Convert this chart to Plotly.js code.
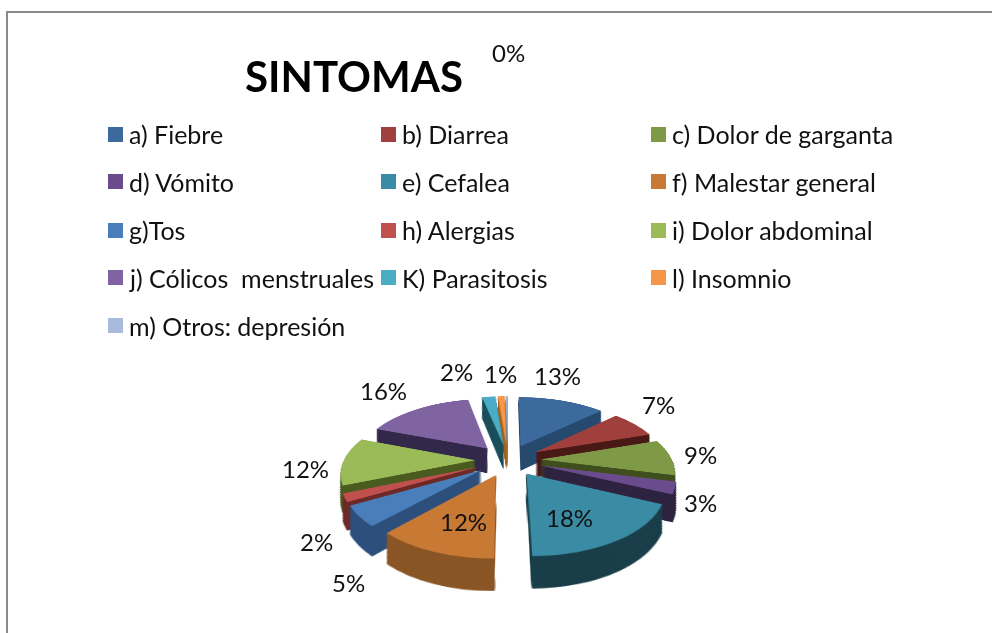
<!DOCTYPE html>
<html>
<head>
<meta charset="utf-8">
<script src="https://cdn.plot.ly/plotly-3.0.1.min.js"></script>
<style>
html,body{margin:0;padding:0;background:#fff;overflow:hidden}
#frame{position:absolute;left:6px;top:11px;width:990px;height:630px;border-left:2px solid #8a8a8a;border-top:2px solid #8a8a8a}
#chart{position:absolute;left:0;top:0;width:992px;height:633px}
</style>
</head>
<body>
<div id="frame"></div>
<div id="chart"></div>
<script>
const categories = ["a) Fiebre","b) Diarrea","c) Dolor de garganta","d) Vómito","e) Cefalea","f) Malestar general","g)Tos","h) Alergias","i) Dolor abdominal","j) Cólicos  menstruales","K) Parasitosis","l) Insomnio","m) Otros: depresión"];
const values = [13,7,9,3,18,12,5,2,12,16,2,1,0.3];
const topColors = ["#3d6a9d","#a0403c","#7f9a46","#6a4c8c","#3a8ca4","#c87a35","#4a7ebb","#c0504d","#9bbb59","#8064a2","#4bacc6","#f79646","#a8bbdd"];
const sideColors = ["#264a6e","#4a1a17","#3f4f1e","#2f2440","#1a3f4a","#8a5626","#2d4f7c","#6e2a28","#4a5c20","#33294a","#1c4f5c","#a8651f","#6f7f9c"];
const labelX = [557,658,700,700,569,463,348,316,305,383,456,500,509];
const labelY = [375,405,455,503,517,521,582,541,468,390,371,373,53];

const W = 992, H = 633;
const pieCx = 508, pieCy = 250, outer = 164, pull = 0.25, depth = 50, step = 1;
const targetCy = 460, persp = 650, tilt = 61.6;

const px = v => v / W, py = v => 1 - v / H;
const sinT = Math.sin(tilt * Math.PI / 180);
const traces = [];
for (let d = depth; d >= 0; d -= step) {
  const f = (persp - d * sinT) / persp, r = outer * f;
  traces.push({
    type: "pie", values: values, labels: categories, sort: false, direction: "clockwise", rotation: 0,
    pull: values.map(() => pull), textinfo: "none", hoverinfo: "skip", showlegend: false,
    marker: {colors: d === 0 ? topColors : sideColors, line: {width: 0}},
    domain: {x: [px(pieCx - r), px(pieCx + r)], y: [py(pieCy + d + r), py(pieCy + d - r)]}
  });
}

const FONT = "Lato, Carlito, Calibri, sans-serif";
const annotations = [];
categories.forEach((c, i) => {
  const col = i % 3, row = Math.floor(i / 3);
  const sx = [108, 381, 651][col], ty = 134 + row * 48;
  annotations.push({xref:"paper",yref:"paper",x:px(sx),y:py(ty),xanchor:"left",yanchor:"middle",text:" ",showarrow:false,width:15,height:15,bgcolor:topColors[i],borderpad:0,borderwidth:0});
  annotations.push({xref:"paper",yref:"paper",x:px(sx + 19),y:py(ty),xanchor:"left",yanchor:"middle",text:c,showarrow:false,align:"left",font:{family:FONT,size:25,color:"#111"}});
});
values.forEach((v, i) => {
  annotations.push({xref:"paper",yref:"paper",x:px(labelX[i]),y:py(labelY[i]),xanchor:"center",yanchor:"middle",text:Math.round(v)+"%",showarrow:false,font:{family:FONT,size:24,color:"#111"}});
});

const layout = {
  width: W, height: H, margin: {l:0,r:0,t:0,b:0},
  paper_bgcolor: "rgba(0,0,0,0)", plot_bgcolor: "rgba(0,0,0,0)",
  title: {text: "<b>SINTOMAS</b>", x: 354/W, xref:"paper", xanchor:"center", y: 1-77/H, yref:"paper", yanchor:"middle", font:{family:FONT,size:42,color:"#000"}},
  showlegend: false, annotations: annotations
};
Plotly.newPlot("chart", traces, layout, {displayModeBar:false, staticPlot:true}).then(() => {
  const svg = document.querySelector("#chart .main-svg");
  svg.style.transformOrigin = pieCx + "px " + pieCy + "px";
  svg.style.transform = "translate(0px," + (targetCy - pieCy) + "px) perspective(" + persp + "px) rotateX(" + tilt + "deg)";
});
</script>
</body>
</html>
